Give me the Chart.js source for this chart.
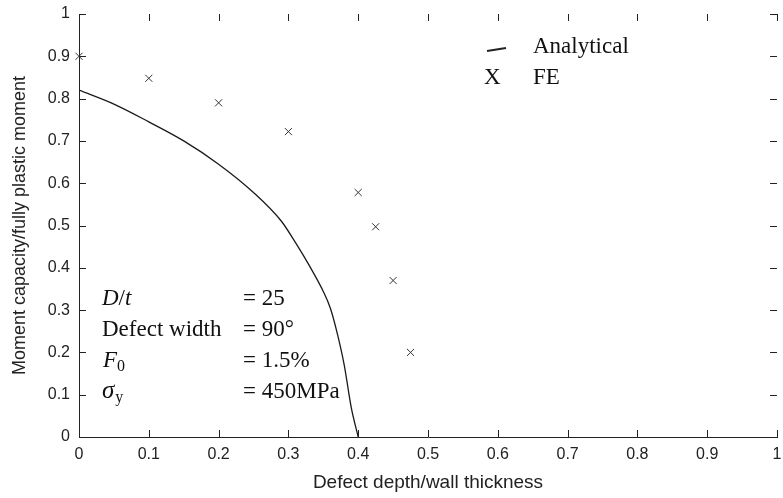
<!DOCTYPE html>
<html>
<head>
<meta charset="utf-8">
<script src="https://cdn.jsdelivr.net/npm/chart.js@4"></script>
<style>
  html, body { margin: 0; padding: 0; background: #fff; }
  #wrap { width: 783px; height: 498px; }
</style>
</head>
<body>
<div id="wrap"><canvas id="chart" width="783" height="498"></canvas></div>
<script>
// ── Data ────────────────────────────────────────────────────────────────
var analyticalX = [0, 0.05, 0.1, 0.15, 0.2, 0.25, 0.29, 0.31, 0.33, 0.35, 0.36, 0.37, 0.38, 0.39, 0.4];
var analyticalY = [0.82, 0.787, 0.745, 0.7, 0.645, 0.578, 0.51, 0.46, 0.405, 0.344, 0.305, 0.245, 0.17, 0.07, 0];

var feX = [0, 0.1, 0.2, 0.3, 0.4, 0.425, 0.45, 0.475];
var feY = [0.9, 0.848, 0.79, 0.722, 0.578, 0.497, 0.37, 0.2];

var tickValues = [0, 0.1, 0.2, 0.3, 0.4, 0.5, 0.6, 0.7, 0.8, 0.9, 1];

var xTitle = 'Defect depth/wall thickness';
var yTitle = 'Moment capacity/fully plastic moment';

var notes = [
  ['D/t', '= 25'],
  ['Defect width', '= 90°'],
  ['F', '= 1.5%'],
  ['σ', '= 450MPa']
];

// ── Helpers ─────────────────────────────────────────────────────────────
var SANS  = '"Liberation Sans Narrow", "Liberation Sans", Arial, sans-serif';
var SERIF = '"Liberation Serif", "Times New Roman", serif';

function toPoints(xs, ys) {
  return xs.map(function (x, i) { return { x: x, y: ys[i] }; });
}

function fmtTick(v) {
  return String(Math.round(v * 10) / 10);
}

// inward ticks on all four sides + legend + parameter box
var decorations = {
  id: 'decorations',
  afterDraw: function (chart) {
    var ctx = chart.ctx;
    var a = chart.chartArea;
    var xs = chart.scales.x, ys = chart.scales.y;
    var len = 7;

    ctx.save();
    ctx.strokeStyle = '#222';
    ctx.lineWidth = 1;
    ctx.beginPath();
    tickValues.forEach(function (v) {
      var px = Math.round(xs.getPixelForValue(v)) + 0.5;
      var py = Math.round(ys.getPixelForValue(v)) + 0.5;
      ctx.moveTo(px, a.bottom); ctx.lineTo(px, a.bottom - len);
      ctx.moveTo(px, a.top);    ctx.lineTo(px, a.top + len);
      ctx.moveTo(a.left, py);   ctx.lineTo(a.left + len, py);
      ctx.moveTo(a.right, py);  ctx.lineTo(a.right - len, py);
    });
    ctx.stroke();

    // legend
    ctx.fillStyle = '#111';
    ctx.textBaseline = 'middle';
    ctx.font = '23px ' + SERIF;
    ctx.fillText('Analytical', 533, 47);
    ctx.fillText('FE', 533, 78);
    ctx.fillText('X', 484, 78);
    ctx.lineWidth = 2.2;
    ctx.beginPath();
    ctx.moveTo(487, 51); ctx.lineTo(506, 48);
    ctx.stroke();

    // parameter box
    var rows = [299, 330, 361, 392];
    ctx.font = 'italic 23px ' + SERIF;
    ctx.fillText('D', 102, rows[0]);
    var w = ctx.measureText('D').width;
    ctx.font = '23px ' + SERIF;
    ctx.fillText('/', 102 + w, rows[0]);
    var w2 = ctx.measureText('/').width;
    ctx.font = 'italic 23px ' + SERIF;
    ctx.fillText('t', 102 + w + w2, rows[0]);

    ctx.font = '23px ' + SERIF;
    ctx.fillText(notes[1][0], 102, rows[1]);

    ctx.font = 'italic 23px ' + SERIF;
    ctx.fillText('F', 103, rows[2]);
    var wf = ctx.measureText('F').width;
    ctx.font = '16px ' + SERIF;
    ctx.fillText('0', 103 + wf, rows[2] + 6);

    ctx.font = 'italic 25px ' + SERIF;
    ctx.fillText('σ', 102, rows[3] - 1);
    var ws = ctx.measureText('σ').width;
    ctx.font = '16px ' + SERIF;
    ctx.fillText('y', 102 + ws + 1, rows[3] + 6);

    ctx.font = '23px ' + SERIF;
    notes.forEach(function (n, i) { ctx.fillText(n[1], 243, rows[i]); });
    ctx.restore();
  }
};

// ── Chart ───────────────────────────────────────────────────────────────
new Chart(document.getElementById('chart'), {
  type: 'scatter',
  data: {
    datasets: [
      {
        label: 'Analytical',
        data: toPoints(analyticalX, analyticalY),
        showLine: true,
        borderColor: '#1a1a1a',
        borderWidth: 1.3,
        pointRadius: 0,
        cubicInterpolationMode: 'monotone'
      },
      {
        label: 'FE',
        data: toPoints(feX, feY),
        pointStyle: 'crossRot',
        pointRadius: 5,
        borderColor: '#333',
        borderWidth: 1,
        clip: false
      }
    ]
  },
  plugins: [decorations],
  options: {
    responsive: false,
    animation: false,
    layout: { padding: { top: 14, right: 3, left: 5, bottom: 0 } },
    plugins: { legend: { display: false }, tooltip: { enabled: false } },
    scales: {
      x: {
        type: 'linear', min: 0, max: 1,
        afterBuildTicks: function (s) { s.ticks = tickValues.map(function (v) { return { value: v }; }); },
        afterFit: function (s) { s.height = 61; s.paddingLeft = 0; s.paddingRight = 0; },
        grid: { display: false, drawTicks: false },
        border: { display: true, color: '#222', width: 1 },
        ticks: { padding: 8, color: '#222', font: { family: SANS, size: 16 }, callback: fmtTick, maxRotation: 0 },
        title: { display: true, text: xTitle, color: '#222', font: { family: SANS, size: 19 }, padding: { top: 3 } }
      },
      y: {
        type: 'linear', min: 0, max: 1,
        afterBuildTicks: function (s) { s.ticks = tickValues.map(function (v) { return { value: v }; }); },
        afterFit: function (s) { s.width = 74; s.paddingTop = 0; s.paddingBottom = 0; },
        grid: { display: false, drawTicks: false },
        border: { display: true, color: '#222', width: 1 },
        ticks: { padding: 9, color: '#222', font: { family: SANS, size: 16 }, callback: fmtTick },
        title: { display: true, text: yTitle, color: '#222', font: { family: SANS, size: 18 }, padding: { bottom: 2 } }
      }
    }
  }
});
</script>
</body>
</html>
